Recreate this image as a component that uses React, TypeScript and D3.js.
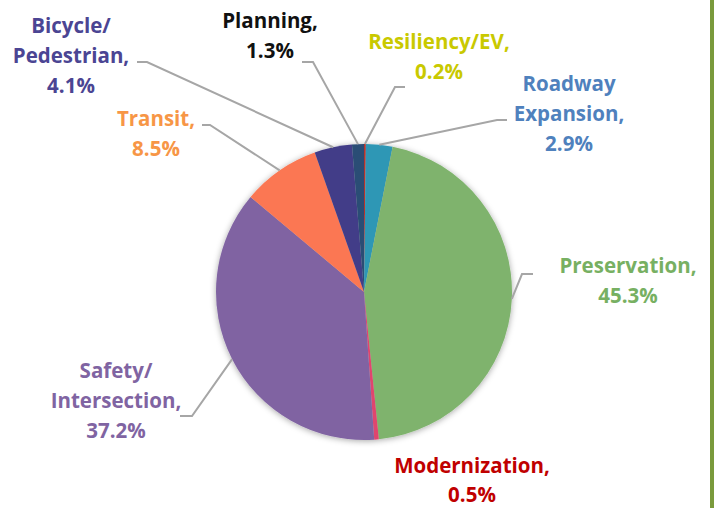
import React from "react";
import * as d3 from "d3";

// ---- data ----
const categories = [
  "Resiliency/EV",
  "Roadway Expansion",
  "Preservation",
  "Modernization",
  "Safety/Intersection",
  "Transit",
  "Bicycle/Pedestrian",
  "Planning",
];
const values = [0.2, 2.9, 45.3, 0.5, 37.2, 8.5, 4.1, 1.3];
const labelLines = [
  ["Resiliency/EV,"],
  ["Roadway", "Expansion,"],
  ["Preservation,"],
  ["Modernization,"],
  ["Safety/", "Intersection,"],
  ["Transit,"],
  ["Bicycle/", "Pedestrian,"],
  ["Planning,"],
];

// ---- styles / layout ----
const sliceColors = ["#b8302c", "#2e97b5", "#7fb36d", "#e0446e", "#8064a2", "#fb7752", "#433e88", "#2c4d75"];
const labelColors = ["#c9c900", "#4f81bd", "#77b062", "#c00000", "#8064a2", "#f79646", "#4b4593", "#111111"];
// label centre x, first baseline y
const labelPos: [number, number][] = [
  [439, 49],
  [569, 91],
  [628, 273],
  [472, 473],
  [116, 378],
  [156, 126],
  [71, 33],
  [270, 28],
];
// leader: [endX, endY, elbowX] (elbow shares endY); null = no leader
const leaders: ([number, number, number] | null)[] = [
  [405, 87, 395],
  [507, 120, 497],
  [533, 274, 522],
  null,
  [180, 416, 192],
  [202, 125, 210],
  [137, 62, 147],
  [302, 62, 313],
];

const W = 716;
const H = 508;
const CX = 364;
const CY = 292;
const R = 148;
const LINE_H = 30;

export default function App() {
  const pie = d3
    .pie<number>()
    .sort(null)
    .value((d) => d);
  const arcs = pie(values);
  const arc = d3.arc<d3.PieArcDatum<number>>().innerRadius(0).outerRadius(R);
  const fmt = d3.format(".1f");

  return (
    <svg
      width={W}
      height={H}
      style={{ position: "absolute", left: 0, top: 0, background: "#fff" }}
      fontFamily="'Open Sans', sans-serif"
    >
      <defs>
        <filter id="sh" x="-20%" y="-20%" width="140%" height="140%">
          <feDropShadow dx="0" dy="1" stdDeviation="3" floodColor="#000" floodOpacity="0.35" />
        </filter>
      </defs>
      <rect x={0} y={0} width={W} height={H} fill="#fff" />
      <rect x={710} y={0} width={4} height={H} fill="#7a9a3c" />

      <g transform={`translate(${CX},${CY})`} filter="url(#sh)">
        {arcs.map((a, i) => (
          <path key={categories[i]} d={arc(a) || ""} fill={sliceColors[i]} />
        ))}
      </g>

      {arcs.map((a, i) => {
        const l = leaders[i];
        if (!l) return null;
        const mid = (a.startAngle + a.endAngle) / 2;
        const px = CX + R * Math.sin(mid);
        const py = CY - R * Math.cos(mid);
        return (
          <polyline
            key={"l" + i}
            points={`${l[0]},${l[1]} ${l[2]},${l[1]} ${px},${py}`}
            fill="none"
            stroke="#a6a6a6"
            strokeWidth={2}
          />
        );
      })}

      {categories.map((c, i) => {
        const lines = [...labelLines[i], fmt(values[i]) + "%"];
        const [lx, ly] = labelPos[i];
        return (
          <text
            key={"t" + c}
            x={lx}
            y={ly}
            textAnchor="middle"
            fontSize={20.5}
            fontWeight={700}
            fill={labelColors[i]}
          >
            {lines.map((s, j) => (
              <tspan key={j} x={lx} y={ly + j * (i === 3 ? 29 : LINE_H)}>
                {s}
              </tspan>
            ))}
          </text>
        );
      })}
    </svg>
  );
}
